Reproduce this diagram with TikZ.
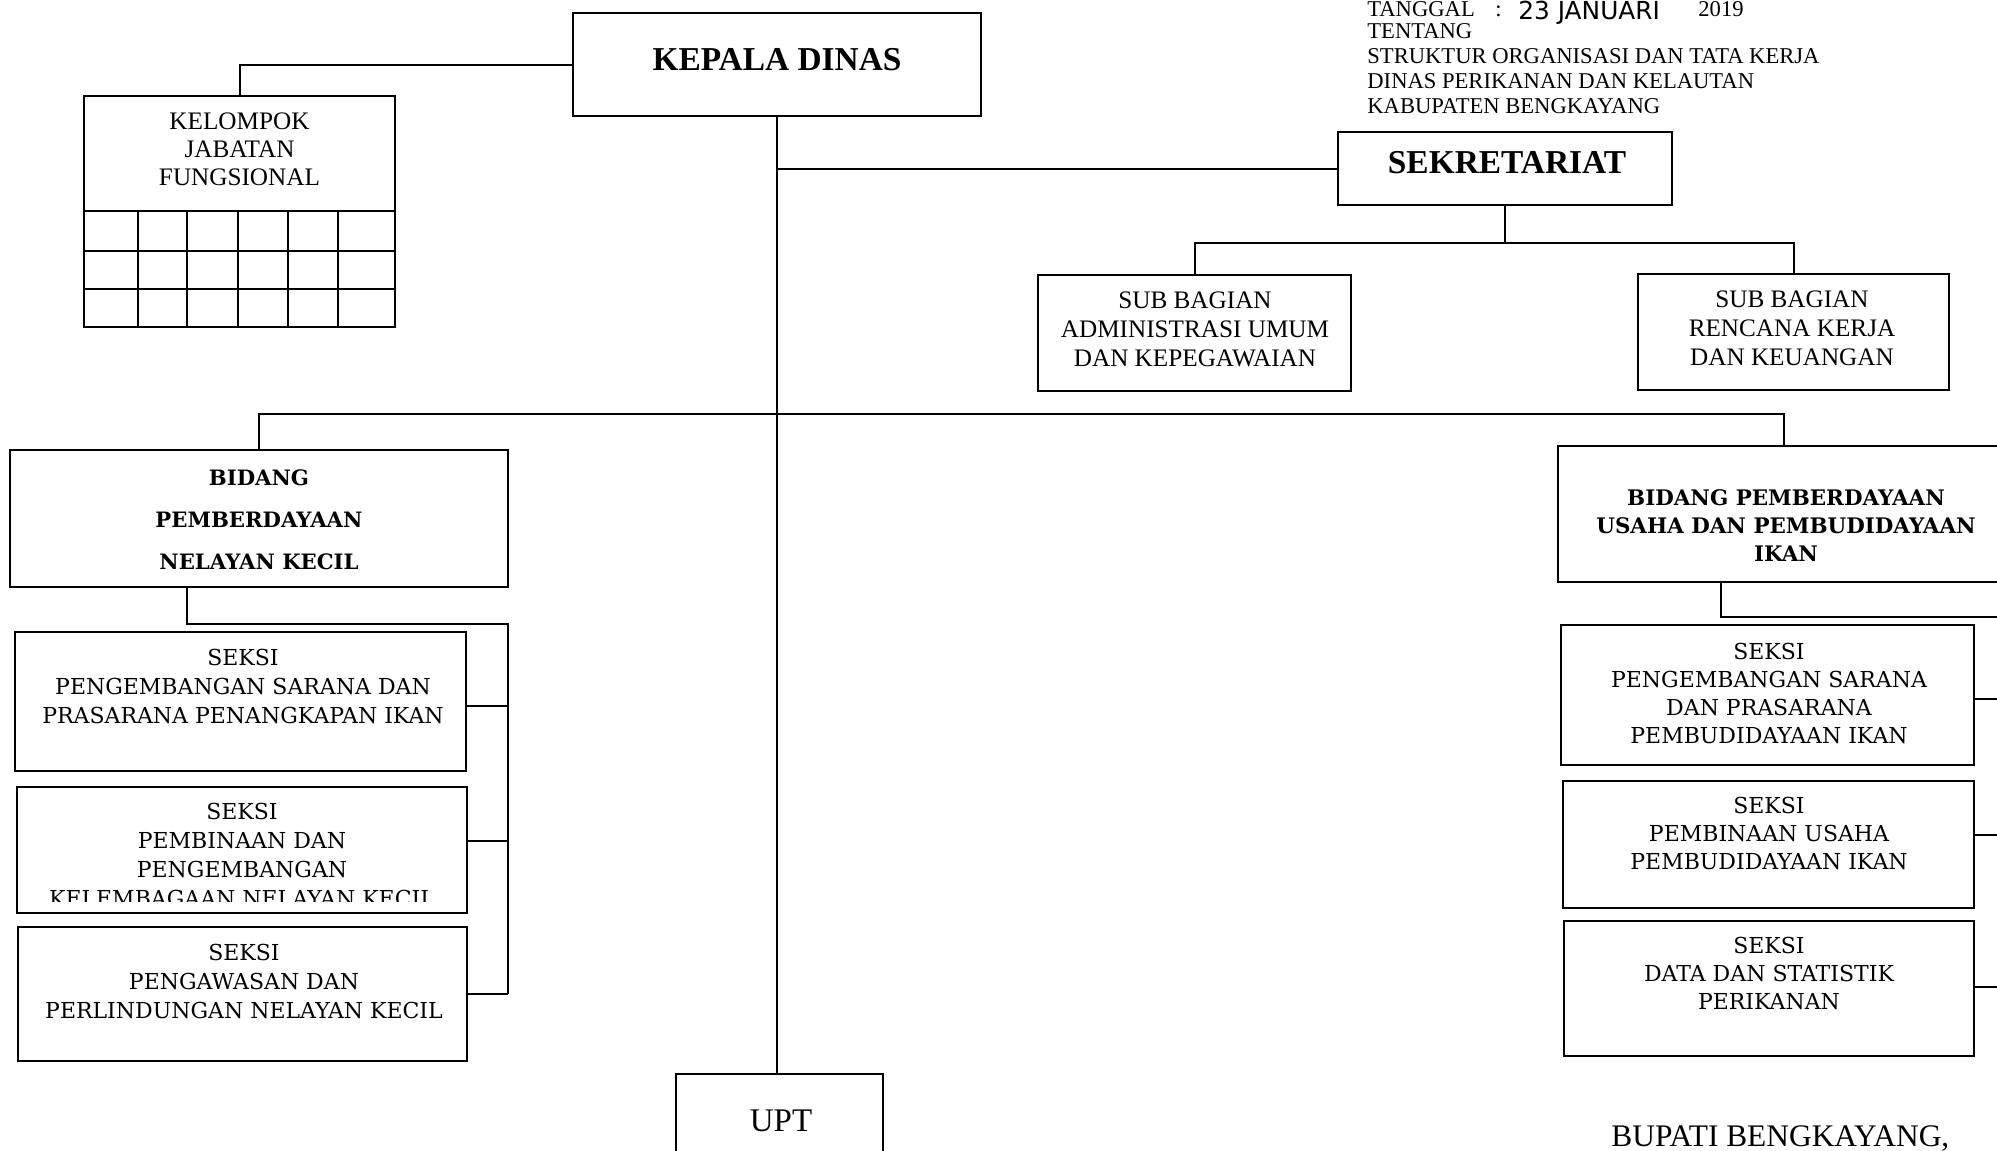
\documentclass[tikz,border=0pt]{standalone}
\usepackage{fontspec}
\setmainfont{Liberation Serif}
\newfontfamily\bkfont{DejaVu Serif}
\newfontfamily\handfont{DejaVu Sans}
\usetikzlibrary{fit,calc}
\begin{document}
\begin{tikzpicture}[x=0.5pt,y=-0.5pt,
  box/.style={draw,line width=1.1pt,inner sep=0pt},
  ln/.style={line width=1pt},
  txt/.style={align=center,inner sep=0pt},
  head/.style={txt,font={\fontsize{16.7}{20}\selectfont\bfseries}},
  sub/.style={txt,font={\fontsize{12.6}{14.5}\selectfont}},
  seksi/.style={txt,font={\bkfont\fontsize{11}{14.5}\selectfont}},
  rseksi/.style={txt,font={\bkfont\fontsize{11}{14}\selectfont}},
  hdr/.style={inner sep=0pt,anchor=base west,font={\fontsize{11.3}{12.75}\selectfont}}]
\useasboundingbox (0,0) rectangle (1997,1151);
\clip (0,0) rectangle (1997,1151);

% boxes
\node[box, fit={(573,13) (981,116)}] (kd) {};
\node[box, fit={(84,96) (395,327)}] (kjf) {};
\node[box, fit={(1338,132) (1672,205)}] (sek) {};
\node[box, fit={(1038,275) (1351,391)}] (adm) {};
\node[box, fit={(1638,274) (1949,390)}] (ren) {};
\node[box, fit={(10,450) (508,587)}] (bl) {};
\node[box, fit={(1558,446) (2010,582)}] (br) {};
\node[box, fit={(15,632) (466,771)}] (ls1) {};
\node[box, fit={(17,787) (467,913)}] (ls2) {};
\node[box, fit={(18,927) (467,1061)}] (ls3) {};
\node[box, fit={(1561,625) (1974,765)}] (rs1) {};
\node[box, fit={(1563,781) (1974,908)}] (rs2) {};
\node[box, fit={(1564,921) (1974,1056)}] (rs3) {};
\node[box, fit={(676,1074) (883,1170)}] (upt) {};

% grid of the functional group box
\foreach \yy in {211,251,289} \draw[ln] (84,\yy) -- (395,\yy);
\foreach \xx in {138,187,238,288,338} \draw[ln] (\xx,211) -- (\xx,327);

% connectors
\draw[ln] (kd.south) -- (kd.south |- upt.north);
\draw[ln] (kd.south |- sek.west) -- (sek.west);
\draw[ln] (kd.west) -| (kjf.north);
\coordinate (sb) at ($(sek.south)+(0,37)$);
\draw[ln] (sek.south) -- (sb);
\draw[ln] (adm.north) |- (sb) -| (ren.north);
\coordinate (bb) at (777,414);
\draw[ln] (bl.north) |- (bb) -| (br.north);

\coordinate (lse) at (508,994);
\draw[ln] ($(bl.south west)+(178,0)$) -- ++(0,36) -| (lse);
\coordinate (lp1) at ($(ls1.east)+(0,4)$);
\coordinate (lp2) at ($(ls2.east)+(0,-9)$);
\draw[ln] (lp1) -- (lp1 -| lse);
\draw[ln] (lp2) -- (lp2 -| lse);
\draw[ln] (ls3.east) -- (ls3.east -| lse);

\coordinate (rse) at (2010,1000);
\draw[ln] ($(br.south west)+(164,0)$) -- ++(0,34) -| (rse);
\coordinate (rp1) at ($(rs1.east)+(0,4)$);
\coordinate (rp2) at ($(rs2.east)+(0,-10)$);
\coordinate (rp3) at ($(rs3.east)+(0,-2)$);
\draw[ln] (rp1) -- (rp1 -| rse);
\draw[ln] (rp2) -- (rp2 -| rse);
\draw[ln] (rp3) -- (rp3 -| rse);

% texts
\node[head] (tkd) at (777,60) {KEPALA DINAS};
\node[head] (tsek) at (1507,163) {SEKRETARIAT};
\node[sub,font={\fontsize{12.6}{14}\selectfont}] (tkjf) at (239.5,149.5) {KELOMPOK\\JABATAN\\FUNGSIONAL};
\node[sub] (tadm) at (1195,329) {SUB BAGIAN\\ADMINISTRASI UMUM\\DAN KEPEGAWAIAN};
\node[sub] (tren) at (1792,328) {SUB BAGIAN\\RENCANA KERJA\\DAN KEUANGAN};
\node[txt,font={\bkfont\bfseries\fontsize{10.6}{21}\selectfont}] (tbl) at (259,520) {BIDANG\\PEMBERDAYAAN\\NELAYAN KECIL};
\node[txt,font={\bkfont\bfseries\fontsize{10.7}{14}\selectfont}] (tbr) at (1786,526) {BIDANG PEMBERDAYAAN\\USAHA DAN PEMBUDIDAYAAN\\IKAN};

\node[seksi] (tls1) at (243,686) {SEKSI\\PENGEMBANGAN SARANA DAN\\PRASARANA PENANGKAPAN IKAN};
\begin{scope}
\clip (17,780) rectangle (467,901);
\node[seksi] (tls2) at (242,854.5) {SEKSI\\PEMBINAAN DAN\\PENGEMBANGAN\\KELEMBAGAAN NELAYAN KECIL};
\end{scope}
\node[seksi] (tls3) at (244,981) {SEKSI\\PENGAWASAN DAN\\PERLINDUNGAN NELAYAN KECIL};

\node[rseksi] (trs1) at (1769,693) {SEKSI\\PENGEMBANGAN SARANA\\DAN PRASARANA\\PEMBUDIDAYAAN IKAN};
\node[rseksi] (trs2) at (1769,833.5) {SEKSI\\PEMBINAAN USAHA\\PEMBUDIDAYAAN IKAN};
\node[rseksi] (trs3) at (1769,973.5) {SEKSI\\DATA DAN STATISTIK\\PERIKANAN};

\node[txt,font={\fontsize{16.5}{20}\selectfont}] (tupt) at (781,1121) {UPT};

% header
\node[hdr] (h1) at (1367,17) {TANGGAL};
\node[hdr] (h1b) at (1495,17) {:};
\node[hdr,font={\handfont\fontsize{12.4}{14}\selectfont}] (h1c) at (1518,19) {23 JANUARI};
\node[hdr] (h1d) at (1698,17) {2019};
\node[hdr] (h2) at (1367,39) {TENTANG};
\node[hdr] (h3) at (1367,63) {STRUKTUR ORGANISASI DAN TATA KERJA};
\node[hdr] (h4) at (1367,88) {DINAS PERIKANAN DAN KELAUTAN};
\node[hdr] (h5) at (1367,113) {KABUPATEN BENGKAYANG};

\node[hdr,font={\fontsize{15.7}{18}\selectfont}] (bup) at (1611,1146) {BUPATI BENGKAYANG,};
\end{tikzpicture}
\end{document}
